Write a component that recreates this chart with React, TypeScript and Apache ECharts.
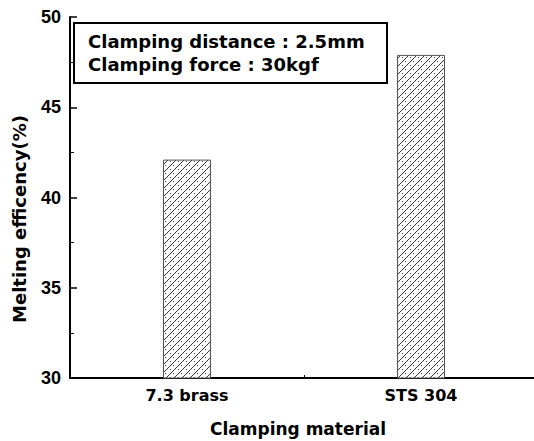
import React, { useEffect, useRef } from "react";
import * as echarts from "echarts";

const categories = ["7.3 brass", "STS 304"];
const efficiency = [42.1, 47.9];
const yTicks = { min: 30, max: 50, interval: 5 };
const boxLines = ["Clamping distance : 2.5mm", "Clamping force : 30kgf"];
const xTitle = "Clamping material";
const yTitle = "Melting efficency(%)";

function makePattern(): HTMLCanvasElement {
  const c = document.createElement("canvas");
  const s = 8;
  c.width = s;
  c.height = s;
  const ctx = c.getContext("2d")!;
  ctx.fillStyle = "#ffffff";
  ctx.fillRect(0, 0, s, s);
  ctx.strokeStyle = "#333";
  ctx.lineWidth = 1;
  ctx.beginPath();
  ctx.moveTo(-1, s + 1);
  ctx.lineTo(s + 1, -1);
  ctx.stroke();
  ctx.fillStyle = "#444";
  ctx.fillRect(2, 1, 1, 1);
  ctx.fillRect(5, 5, 1, 1);
  return c;
}

export default function App() {
  const ref = useRef<HTMLDivElement>(null);
  useEffect(() => {
    if (!ref.current) return;
    const chart = echarts.init(ref.current, null, { renderer: "svg" });
    const pattern = makePattern();
    const lib = "'Liberation Sans', Arial, sans-serif";
    const dv = "'DejaVu Sans', sans-serif";
    chart.setOption({
      animation: false,
      backgroundColor: "#ffffff",
      textStyle: { fontFamily: lib },
      grid: { left: 70, top: 17, height: 361, width: 468, outerBoundsMode: "none", containLabel: false },
      xAxis: {
        type: "category",
        data: categories,
        axisLine: { lineStyle: { color: "#000", width: 2 } },
        axisTick: { show: true, inside: true, length: 3, lineStyle: { color: "#000" } },
        axisLabel: { color: "#000", fontSize: 16, fontWeight: "bold", margin: 9, fontFamily: dv },
      },
      yAxis: {
        type: "value",
        min: yTicks.min,
        max: yTicks.max,
        interval: yTicks.interval,
        axisLine: { show: true, lineStyle: { color: "#000", width: 2 } },
        axisTick: { show: true, inside: true, length: 7, lineStyle: { color: "#000", width: 1.5 } },
        minorTick: { show: true, splitNumber: 2, length: 4, lineStyle: { color: "#000" } },
        splitLine: { show: false },
        axisLabel: { color: "#000", fontSize: 18, fontWeight: "bold", margin: 9, fontFamily: lib },
      },
      series: [
        {
          type: "bar",
          data: efficiency,
          barWidth: 48,
          itemStyle: {
            color: { image: pattern, repeat: "repeat" },
            borderColor: "#555",
            borderWidth: 1,
          },
        },
      ],
      graphic: [
        {
          type: "rect",
          shape: { x: 74, y: 23, width: 313, height: 60 },
          style: { fill: "#fff", stroke: "#000", lineWidth: 2 },
          z: 10,
        },
        {
          type: "text",
          x: 88,
          y: 32,
          z: 11,
          style: { text: boxLines[0], font: `bold 18px ${dv}`, fill: "#000" },
        },
        {
          type: "text",
          x: 88,
          y: 55,
          z: 11,
          style: { text: boxLines[1], font: `bold 18px ${dv}`, fill: "#000" },
        },
        {
          type: "text",
          x: 19,
          y: 219,
          rotation: Math.PI / 2,
          style: {
            text: yTitle,
            font: `bold 18px ${dv}`,
            fill: "#000",
            align: "center",
            verticalAlign: "middle",
          },
        },
        {
          type: "text",
          x: 298,
          y: 429,
          style: {
            text: xTitle,
            font: `bold 17px ${dv}`,
            fill: "#000",
            align: "center",
            verticalAlign: "middle",
          },
        },
      ],
    });
    return () => chart.dispose();
  }, []);
  return (
    <div
      ref={ref}
      style={{ position: "fixed", left: 0, top: 0, width: 534, height: 441 }}
    />
  );
}
